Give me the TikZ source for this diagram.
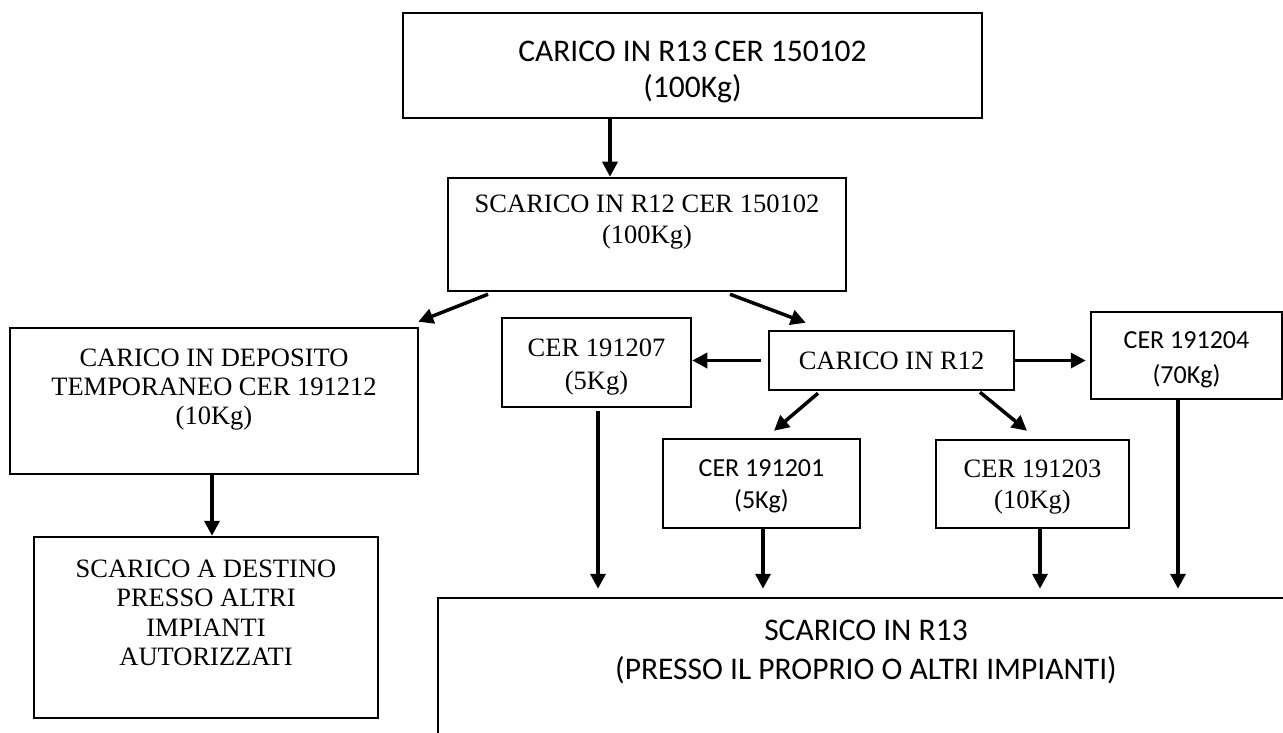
\documentclass[tikz,border=0pt]{standalone}
\usepackage{fontspec}
\newfontfamily\fCal{Carlito}
\newfontfamily\fTms{Liberation Serif}
\usetikzlibrary{arrows.meta,positioning}
\newcommand\lift[1]{\rule{0pt}{#1}}
\tikzset{
  box/.style  ={draw,line width=2.5pt,inner sep=0pt,align=center},
  cbig/.style ={box,font=\fCal\fontsize{31.5}{36}\selectfont},
  csml/.style ={box,font=\fCal\fontsize{26}{35}\selectfont},
  tbox/.style ={box,font=\fTms\fontsize{26.5}{30}\selectfont},
  ar/.style   ={-{Triangle[length=15pt,width=15pt]},line width=3.5pt},
}

\begin{document}
\begin{tikzpicture}[x=1pt,y=-1pt]
\useasboundingbox (0,0) rectangle (1283,733);
\clip (0,0) rectangle (1283,733);
% top of the chain
\node[cbig,minimum width=579pt,minimum height=105pt] (car13) at (692.5,65.5) {\lift{34pt}CARICO IN R13 CER 150102\\(100Kg)};
\node[tbox,minimum width=398pt,minimum height=113pt,font=\fTms\fontsize{26.5}{31}\selectfont] (sc12) at (647,234.5) {SCARICO IN R12 CER 150102\\(100Kg)\\\mbox{}};
% left branch
\node[tbox,minimum width=408pt,minimum height=146pt,font=\fTms\fontsize{26.5}{29}\selectfont] (dep) at (214,401) {CARICO IN DEPOSITO\\TEMPORANEO CER 191212\\(10Kg)\\\mbox{}};
\node[tbox,minimum width=344pt,minimum height=181pt,font=\fTms\fontsize{26.5}{29.5}\selectfont] (dest) at (206,627.5) {SCARICO A DESTINO\\PRESSO ALTRI\\IMPIANTI\\AUTORIZZATI\\\mbox{}};
% right branch
\node[tbox,minimum width=245pt,minimum height=59pt] (r12) at (891.5,360.5) {CARICO IN R12};
\node[tbox,minimum width=189pt,minimum height=89pt,font=\fTms\fontsize{26.5}{33}\selectfont] (c207) at (596.5,362.5) {\lift{26pt}CER 191207\\(5Kg)};
\node[csml,minimum width=191pt,minimum height=87pt] (c204) at (1186.5,355.5) {\lift{26pt}CER 191204\\(70Kg)};
\node[csml,minimum width=197pt,minimum height=89pt,font=\fCal\fontsize{26}{32}\selectfont] (c201) at (761.5,483.5) {\lift{23pt}CER 191201\\(5Kg)};
\node[tbox,minimum width=193pt,minimum height=88pt,font=\fTms\fontsize{26.5}{31}\selectfont] (c203) at (1032.5,484) {\lift{23pt}CER 191203\\(10Kg)};
\node[cbig,minimum width=856pt,minimum height=142pt,font=\fCal\fontsize{31.5}{39}\selectfont] (bot) at (866,669) {SCARICO IN R13\\(PRESSO IL PROPRIO O ALTRI IMPIANTI)\\\mbox{}};
% arrows
\draw[ar] ([xshift=-82.5pt]car13.south) -- ([xshift=-37pt]sc12.north);
\draw[ar] ([xshift=-159pt,yshift=-2pt]sc12.south) -- ([xshift=-1pt,yshift=5pt]dep.north east);
\draw[ar] ([xshift=83pt,yshift=-2pt]sc12.south) -- ([xshift=38pt,yshift=7pt]r12.north west);
\draw[ar] ([xshift=-2pt]dep.south) -- ([xshift=-2pt]dep.south |- dest.north);
\draw[ar] ([xshift=-7pt]r12.west) -- (c207.east |- r12.west);
\draw[ar] (r12.east) -- ([xshift=-4pt]c204.west |- r12.east);
\draw[ar] ([xshift=-73.5pt,yshift=-2pt]r12.south) -- ([xshift=12.5pt,yshift=7pt]c201.north);
\draw[ar] ([xshift=88.5pt,yshift=-1pt]r12.south) -- ([xshift=-5.5pt,yshift=8pt]c203.north);
\draw[ar] ([xshift=1.5pt,yshift=-3pt]c207.south) -- ([xshift=1.5pt,yshift=8pt]c207.south |- bot.north);
\draw[ar] ([xshift=1.5pt]c201.south) -- ([xshift=1.5pt,yshift=8pt]c201.south |- bot.north);
\draw[ar] ([xshift=7.5pt]c203.south) -- ([xshift=7.5pt,yshift=8pt]c203.south |- bot.north);
\draw[ar] ([xshift=-8.5pt]c204.south) -- ([xshift=-8.5pt,yshift=8pt]c204.south |- bot.north);
\end{tikzpicture}
\end{document}
